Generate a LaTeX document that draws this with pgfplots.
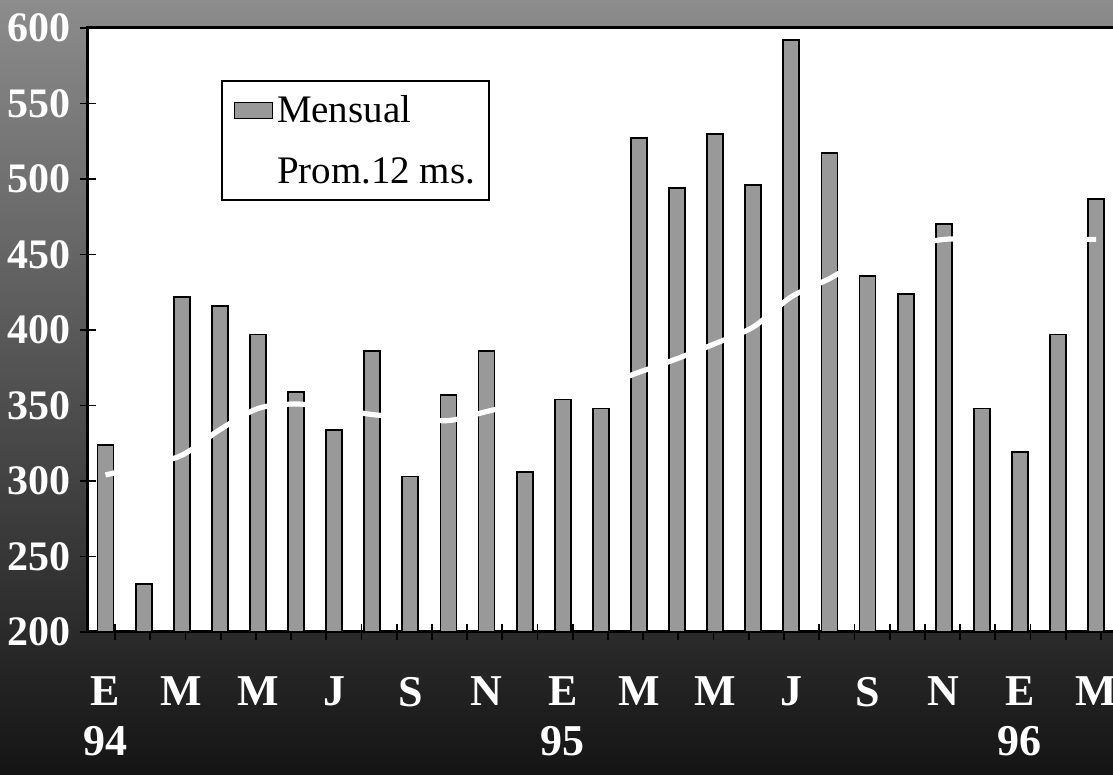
\documentclass[border=0pt]{standalone}
\usepackage{fontspec}
\setmainfont{Liberation Serif}
\usepackage{pgfplots}
\pgfplotsset{compat=1.18}
\usetikzlibrary{backgrounds}
\begin{document}
\begin{tikzpicture}
\begin{axis}[
  at={(0pt,0pt)}, anchor=south west,
  scale only axis, width=514pt, height=302pt,
  xmin=0.54, xmax=27.52, ymin=200, ymax=600,
  axis background/.style={fill=white},
  axis line style={line width=1.5pt},
  /pgf/number format/assume math mode=true,
  ytick={200,250,...,600},
  ytick pos=left, xtick pos=left,
  tick align=center,
  major tick length=8pt,
  tick style={black, line width=0.9pt},
  yticklabel style={font=\fontsize{21}{24}\selectfont\bfseries, text=white, xshift=-1pt},
  xtick={1.25,2.174,...,27.5},
  xticklabels={},
  extra x ticks={1,3,...,27},
  extra x tick labels={{E\\94},M,M,J,S,N,{E\\95},M,M,J,S,N,{E\\96},M},
  extra x tick style={major tick length=0pt},
  xticklabel style={font=\fontsize{22}{25}\selectfont\bfseries, text=white, align=center, anchor=north, yshift=-19pt},
  legend style={at={(0.129,0.914)}, anchor=north west, draw=black, line width=1.2pt,
    font=\fontsize{19.5}{23}\selectfont, row sep=12pt, inner sep=5pt, fill=white},
  legend cell align=left,
]
\addplot[ybar, bar width=0.42, fill=black!40, draw=black, line width=0.9pt,
  legend image code/.code={\draw[fill=black!40, draw=black, line width=0.6pt] (0pt,-4pt) rectangle (19pt,4pt);}]
coordinates {
(1,324) (2,232) (3,422) (4,416) (5,397) (6,359) (7,334) (8,386) (9,303)
(10,357) (11,386) (12,306) (13,354) (14,348) (15,527) (16,494) (17,530)
(18,496) (19,592) (20,517) (21,436) (22,424) (23,470) (24,348) (25,319)
(26,397) (27,487)
};
\addlegendentry{Mensual}
\addplot[white, line width=2.6pt, smooth] coordinates {
(1,304) (2,310) (3,317) (4,334) (5,348) (6,351) (7,348) (8,344) (9,342)
(10,340) (11,346) (12,352) (13,358) (14,363) (15,372) (16,381) (17,391)
(18,402) (19,422) (20,434) (21,448) (22,455) (23,460) (24,460) (25,460)
(26,460) (27,460)
};
\addlegendentry{Prom.12 ms.}
\end{axis}
\begin{scope}[on background layer]
\shade[top color=black!45, bottom color=black!92] (-44pt,-71.5pt) rectangle (512.5pt,316pt);
\end{scope}
\pgfresetboundingbox
\useasboundingbox (-44pt,-71.5pt) rectangle (512.5pt,316pt);
\end{tikzpicture}
\end{document}
